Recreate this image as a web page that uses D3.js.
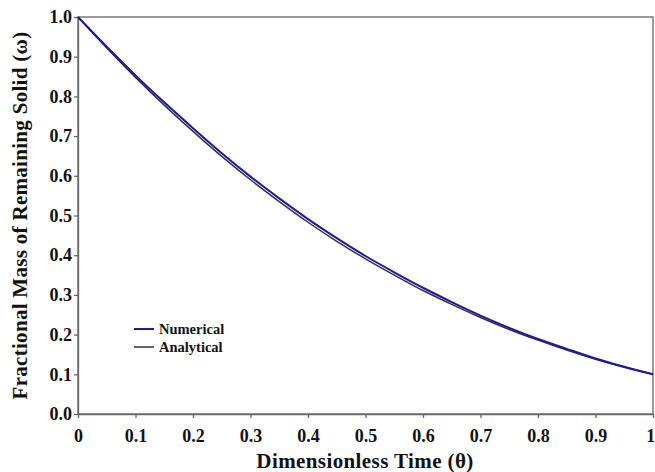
<!DOCTYPE html>
<head>
<meta charset="utf-8">
<script src="https://d3js.org/d3.v7.min.js"></script>
<style>
    body { margin: 0; background: #fff; }
    text { font-family: "Liberation Serif", "Times New Roman", serif; font-weight: bold; fill: #111; }
    .axis path, .axis line { stroke: #666; stroke-width: 1.3px; }
</style>
</head>
<body>
<svg></svg>
<script>
    var width = 655;
    var height = 472;

    // values
    var theta = [0, 0.05, 0.1, 0.15, 0.2, 0.25, 0.3, 0.35, 0.4, 0.45, 0.5, 0.55, 0.6, 0.65, 0.7, 0.75, 0.8, 0.85, 0.9, 0.95, 1.0];
    var numerical = [1.0, 0.925, 0.853, 0.785, 0.720, 0.657, 0.598, 0.543, 0.491, 0.443, 0.398, 0.357, 0.318, 0.282, 0.248, 0.217, 0.189, 0.164, 0.140, 0.119, 0.100];
    var analytical = [1.0, 0.922, 0.848, 0.778, 0.712, 0.649, 0.590, 0.535, 0.483, 0.435, 0.391, 0.350, 0.311, 0.276, 0.243, 0.213, 0.186, 0.161, 0.138, 0.118, 0.100];
    var xTicks = [0, 0.1, 0.2, 0.3, 0.4, 0.5, 0.6, 0.7, 0.8, 0.9, 1];
    var xTickLabels = ["0", "0.1", "0.2", "0.3", "0.4", "0.5", "0.6", "0.7", "0.8", "0.9", "1"];
    var yTicks = [0, 0.1, 0.2, 0.3, 0.4, 0.5, 0.6, 0.7, 0.8, 0.9, 1.0];

    var mLeft = 78, mRight = 653, mTop = 17, mBottom = 414;

    var svg = d3.select("svg")
        .attr("width", width)
        .attr("height", height);

    var x = d3.scaleLinear().domain([0, 1]).range([mLeft, mRight]);
    var y = d3.scaleLinear().domain([0, 1]).range([mBottom, mTop]);

    // frame top and right
    svg.append("rect")
        .attr("x", mLeft).attr("y", mTop)
        .attr("width", mRight - mLeft).attr("height", mBottom - mTop)
        .attr("fill", "none").attr("stroke", "#666").attr("stroke-width", 1.3);

    var xAxis = svg.append("g").attr("class", "axis")
        .attr("transform", "translate(0," + mBottom + ")")
        .call(d3.axisBottom(x).tickValues(xTicks).tickSize(4).tickSizeOuter(0)
            .tickFormat(function(d, i) { return xTickLabels[i]; }));
    xAxis.selectAll("text").attr("y", 15).attr("dy", "0.71em").style("font-size", "18px").attr("fill", "#111");
    // last label sits at the right edge, keep it inside
    xAxis.selectAll("text").filter(function(d) { return d === 1; }).attr("text-anchor", "end").attr("dx", "0.1em");

    var yAxis = svg.append("g").attr("class", "axis")
        .attr("transform", "translate(" + mLeft + ",0)")
        .call(d3.axisLeft(y).tickValues(yTicks).tickSize(4).tickSizeOuter(0).tickFormat(d3.format(".1f")));
    yAxis.selectAll("text").attr("x", -6).style("font-size", "18px").attr("fill", "#111");

    var line = d3.line()
        .x(function(d) { return x(d[0]); })
        .y(function(d) { return y(d[1]); })
        .curve(d3.curveMonotoneX);

    svg.append("path")
        .attr("d", line(theta.map(function(t, i) { return [t, analytical[i]]; })))
        .attr("fill", "none").attr("stroke", "#333").attr("stroke-width", 1.5);

    svg.append("path")
        .attr("d", line(theta.map(function(t, i) { return [t, numerical[i]]; })))
        .attr("fill", "none").attr("stroke", "#1a1aa0").attr("stroke-width", 2);

    // legend
    var legend = [["Numerical", "#1a1aa0", 2], ["Analytical", "#333", 1.5]];
    legend.forEach(function(l, i) {
        var ly = 329 + i * 18;
        svg.append("line").attr("x1", 134).attr("x2", 154).attr("y1", ly).attr("y2", ly)
            .attr("stroke", l[1]).attr("stroke-width", l[2]);
        svg.append("text").attr("x", 159).attr("y", ly + 5)
            .style("font-size", "14.5px").text(l[0]);
    });

    // axis titles
    svg.append("text")
        .attr("x", 365).attr("y", 468)
        .attr("text-anchor", "middle").style("font-size", "21px").style("letter-spacing", "0.4px")
        .text("Dimensionless Time (θ)");

    svg.append("text")
        .attr("transform", "translate(27," + ((mTop + mBottom) / 2) + ") rotate(-90)")
        .attr("text-anchor", "middle").style("font-size", "21px").style("letter-spacing", "0.3px")
        .text("Fractional Mass of Remaining Solid (ω)");
</script>
</body>
